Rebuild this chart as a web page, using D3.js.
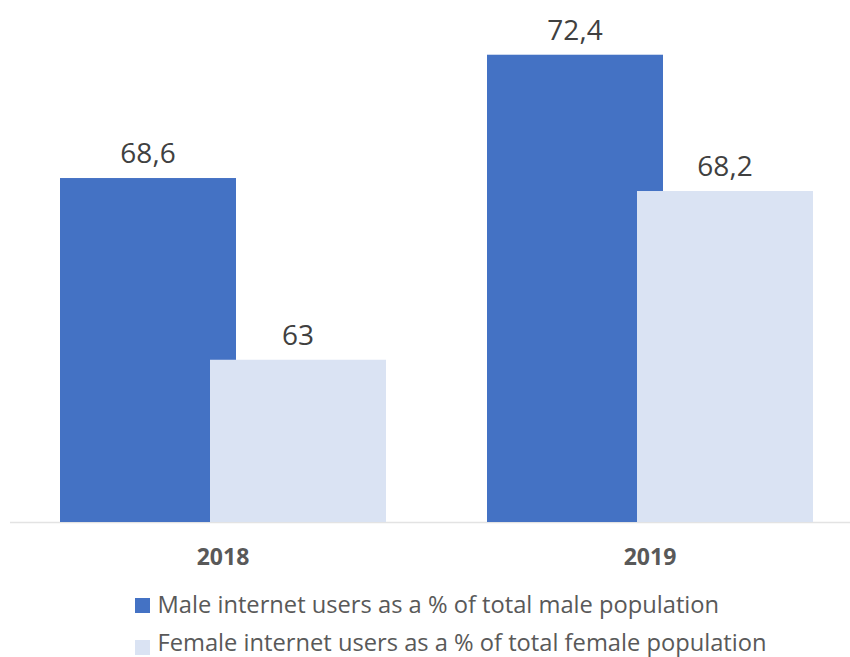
<!DOCTYPE html>
<html>
<head>
<meta charset="utf-8">
<script src="https://cdn.jsdelivr.net/npm/d3@7"></script>
<style>
  html, body { margin: 0; padding: 0; background: #fff; }
  svg { display: block; font-family: "Open Sans", sans-serif; }
</style>
</head>
<body>
<svg id="chart" width="850" height="657"></svg>
<script>
// Internet users by sex, share of population (%)
const years = ["2018", "2019"];
const seriesNames = [
  "Male internet users as a % of total male population",
  "Female internet users as a % of total female population"
];
const maleValues = [68.6, 72.4];
const femaleValues = [63, 68.2];
const seriesColors = ["#4472c4", "#dae3f3"];

const svg = d3.select("#chart");
const width = 850;

const baseY = 522;
const x = d3.scaleBand().domain(years).range([9.5, 863.5]).padding(0);
const y = d3.scaleLinear().domain([58, 74]).range([baseY, 2.8]);

const barW = 176;
const overlap = 26;
const fmt = v => String(v).replace(".", ",");

const series = [maleValues, femaleValues];

// Baseline
svg.append("line")
  .attr("x1", 10).attr("x2", width)
  .attr("y1", baseY + 0.5).attr("y2", baseY + 0.5)
  .attr("stroke", "#e3e3e3").attr("stroke-width", 1.5);

series.forEach((vals, si) => {
  const g = svg.append("g");
  const xOf = (d, i) => {
    const c = x(years[i]) + x.bandwidth() / 2;
    const total = barW * 2 - overlap;
    return c - total / 2 + si * (barW - overlap);
  };
  g.selectAll("rect").data(vals).join("rect")
    .attr("x", xOf)
    .attr("y", d => y(d))
    .attr("width", barW)
    .attr("height", d => baseY - y(d))
    .attr("fill", seriesColors[si]);
  g.selectAll("text").data(vals).join("text")
    .attr("x", (d, i) => xOf(d, i) + barW / 2)
    .attr("y", d => y(d) - 15)
    .attr("text-anchor", "middle")
    .attr("font-size", 28)
    .attr("fill", "#404040")
    .text(fmt);
});

// Category labels
const xAxis = d3.axisBottom(x).tickSize(0).tickPadding(0);
const ax = svg.append("g").attr("transform", `translate(0,${baseY})`).call(xAxis);
ax.select(".domain").remove();
ax.selectAll("text")
  .attr("y", 43)
  .attr("dy", 0)
  .attr("font-family", "Open Sans, sans-serif")
  .attr("font-size", 23)
  .attr("font-weight", "bold")
  .attr("fill", "#595959");

// Legend
const legend = svg.append("g");
seriesNames.forEach((name, i) => {
  const ly = 612.5 + i * 38.5;
  legend.append("rect")
    .attr("x", 135).attr("y", 598 + i * 42)
    .attr("width", 15).attr("height", 15)
    .attr("fill", seriesColors[i]);
  legend.append("text")
    .attr("x", 157.5).attr("y", ly)
    .attr("font-size", 23.7)
    .attr("fill", "#595959")
    .text(name);
});
</script>
</body>
</html>
